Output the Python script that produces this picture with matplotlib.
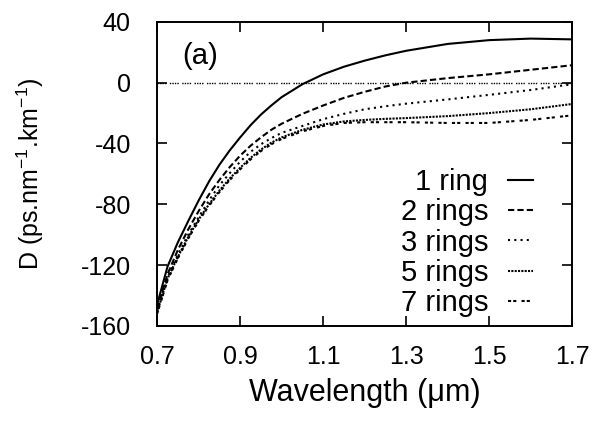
import matplotlib
matplotlib.use("Agg")
import matplotlib.pyplot as plt

plt.rcParams['font.family'] = ['Liberation Sans', 'DejaVu Sans']
plt.rcParams['axes.unicode_minus'] = False

# wavelength grid (um) and dispersion values
wavelength = [0.70, 0.725, 0.75, 0.775, 0.80, 0.825, 0.85, 0.875, 0.90, 0.925,
              0.95, 0.975, 1.00, 1.05, 1.10, 1.15, 1.20, 1.25, 1.30, 1.40,
              1.50, 1.60, 1.70]
d_1ring = [-146, -121, -105, -91, -77.5, -65, -54, -44.5, -36, -28,
           -21, -15, -9.5, -1, 5.5, 10.5, 14.5, 18, 21, 25.5,
           28, 29, 28.5]
d_2rings = [-149, -126, -110, -96.5, -84.5, -73.5, -64, -55.5, -48, -41.5,
            -36, -31, -27, -20.5, -15, -10, -6, -2.5, 0, 3,
            5.5, 8.5, 11.5]
d_3rings = [-150, -128, -113, -100, -88.5, -77.5, -67.5, -59.5, -52, -45.5,
            -40.5, -36.5, -33, -28.5, -24, -20.5, -17.5, -15.5, -13.8, -11,
            -8, -4.8, -1]
d_5rings = [-151, -129, -114.5, -101.5, -90, -80, -71, -63, -56, -49.5,
            -44, -39.5, -36, -31, -27.5, -25.5, -24.5, -23.8, -23.3, -22,
            -20, -17.5, -14]
d_7rings = [-152, -130, -115.5, -102.5, -91, -81, -72, -64, -57, -50.5,
            -45, -40.5, -37, -32, -28.5, -26.5, -26, -26, -26, -26.5,
            -26.5, -24.5, -21.5]

labels = ['1 ring', '2 rings', '3 rings', '5 rings', '7 rings']
styles = ['-', (0, (3, 1.5)), (0, (1, 2)), (0, (1, 0.6)), (0, (1.5, 1, 1.5, 2.5))]
x_ticks = [0.7, 0.9, 1.1, 1.3, 1.5, 1.7]
y_ticks = [-160, -120, -80, -40, 0, 40]

fig = plt.figure(figsize=(5.93, 4.21), dpi=100)
ax = fig.add_axes([0.265, 0.226, 0.700, 0.722])

# zero reference line
ax.plot([wavelength[0], wavelength[-1]], [0, 0], color='black', lw=1.0,
        linestyle=(0, (1, 0.8, 1, 0.8, 1, 0.8, 1, 2.5)))

all_d = [d_1ring, d_2rings, d_3rings, d_5rings, d_7rings]
for d, lab, ls in zip(all_d, labels, styles):
    ax.plot(wavelength, d, color='black', lw=1.5, linestyle=ls, label=lab)

ax.set_xlim(0.7, 1.7)
ax.set_ylim(-160, 40)
ax.set_xticks(x_ticks)
ax.set_xticklabels([f"{v:.1f}" for v in x_ticks])
ax.set_yticks(y_ticks)
ax.tick_params(direction='in', length=7, width=1.2, labelsize=18,
               top=True, right=True)
ax.tick_params(axis='x', pad=14)
ax.tick_params(axis='y', pad=19)
for sp in ax.spines.values():
    sp.set_linewidth(1.4)

ax.set_xlabel('Wavelength (\u03bcm)', fontsize=22, labelpad=6)
ax.set_ylabel(r'D (ps.nm$^{\mathregular{-1}}$.km$^{\mathregular{-1}}$)', fontsize=18, labelpad=25)

ax.text(0.06, 0.86, '(a)', transform=ax.transAxes, fontsize=21)

ax.legend(loc='lower right', frameon=False, markerfirst=False, fontsize=21,
          handlelength=0.86, handletextpad=0.68, labelspacing=0.08,
          borderaxespad=0, bbox_to_anchor=(0.934, -0.01))

fig.savefig('out.png', dpi=100)
